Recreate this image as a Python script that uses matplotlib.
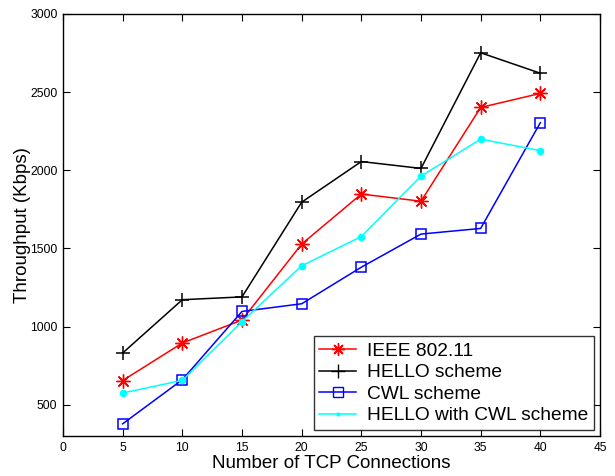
import matplotlib
matplotlib.use("Agg")
import matplotlib.pyplot as plt
from matplotlib.lines import Line2D

plt.rcParams['font.family'] = ['Liberation Sans', 'DejaVu Sans']

connections = [5, 10, 15, 20, 25, 30, 35, 40]
ieee = [655, 895, 1042, 1528, 1848, 1802, 2402, 2492]
hello = [831, 1172, 1190, 1796, 2056, 2012, 2752, 2621]
cwl = [378, 660, 1097, 1146, 1380, 1592, 1628, 2305]
hello_cwl = [575, 656, 1032, 1389, 1576, 1963, 2199, 2126]

labels = ['IEEE 802.11', 'HELLO scheme', 'CWL scheme', 'HELLO with CWL scheme']

ast = (8, 2, 0)

fig = plt.figure(figsize=(6.15, 4.76), dpi=100)
ax = fig.add_axes([63/615, 40/476, (600-63)/615, (436-14)/476])

ax.plot(connections, ieee, color='red', marker=ast, markersize=10, lw=1.1,
        markeredgewidth=1.0)
ax.plot(connections, hello, color='black', marker='+', markersize=10, lw=1.1,
        markeredgewidth=1.1)
ax.plot(connections, cwl, color='blue', marker='s', markersize=7, lw=1.1,
        markerfacecolor='none', markeredgewidth=1.1)
ax.plot(connections, hello_cwl, color='cyan', marker='o', markersize=5.5, lw=1.1,
        markeredgewidth=0)

ax.set_xlim(0, 45)
ax.set_ylim(300, 3000)
ax.set_xticks(range(0, 46, 5))
ax.set_yticks([500, 1000, 1500, 2000, 2500, 3000])
ax.tick_params(direction='in', top=True, right=True, labelsize=8.7, length=5,
               width=0.8, pad=4)
for s in ax.spines.values():
    s.set_linewidth(1.0)

ax.set_xlabel('Number of TCP Connections', fontsize=13.5, labelpad=1)
ax.set_ylabel('Throughput (Kbps)', fontsize=13.5, labelpad=-1)

handles = [
    Line2D([], [], color='red', marker=ast, markersize=9, lw=1.1, markeredgewidth=1.0),
    Line2D([], [], color='black', marker='+', markersize=10, lw=1.1),
    Line2D([], [], color='blue', marker='s', markersize=7, lw=1.1, markerfacecolor='none'),
    Line2D([], [], color='cyan', marker='.', markersize=4, lw=1.1),
]
leg = ax.legend(handles, labels, loc='lower right', fontsize=13.8, frameon=True,
                fancybox=False, edgecolor='black', handlelength=1.9,
                borderpad=0.3, labelspacing=0.22, handletextpad=0.6,
                borderaxespad=0.3)
leg.get_frame().set_linewidth(1.0)

fig.savefig('out.png', dpi=100)
